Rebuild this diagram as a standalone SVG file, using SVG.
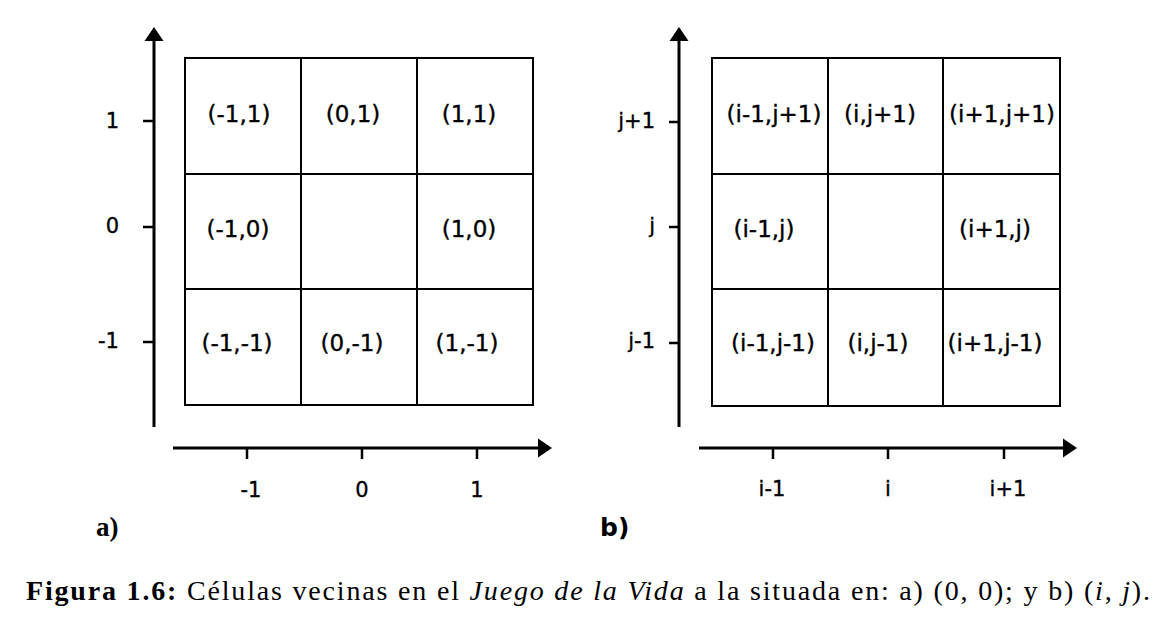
<svg xmlns="http://www.w3.org/2000/svg" width="1154" height="634" viewBox="0 0 1154 634">
<defs>
<style>
.cell{fill:#fff;stroke:#000;stroke-width:2}
.lbl{font-family:"DejaVu Sans",Verdana,sans-serif;font-size:23px;fill:#000;stroke:#000;stroke-width:0.35;text-anchor:middle}
.ax{font-family:"DejaVu Sans",Verdana,sans-serif;font-size:21px;fill:#000;stroke:#000;stroke-width:0.35}
.axis{stroke:#000;stroke-width:3;fill:none}
.tick{stroke:#000;stroke-width:2.5;fill:none}
.cap{font-family:"Liberation Serif","DejaVu Serif",serif;font-size:28px;fill:#000}
</style>
<marker id="arr" markerUnits="userSpaceOnUse" markerWidth="14" markerHeight="20" viewBox="0 0 14 20" refX="10" refY="10" orient="auto">
<path d="M0,0.5 L14,10 L0,19.5 Z" fill="#000"/>
</marker>
</defs>
<rect width="1154" height="634" fill="#fff"/>

<g id="panel-a">
<g id="a-cells">
<g id="a-cell-m1-p1"><rect class="cell" x="185" y="58" width="116" height="116"/><text class="lbl" x="239" y="122">(-1,1)</text></g>
<g id="a-cell-0-p1"><rect class="cell" x="301" y="58" width="116" height="116"/><text class="lbl" x="353" y="122">(0,1)</text></g>
<g id="a-cell-p1-p1"><rect class="cell" x="417" y="58" width="116" height="116"/><text class="lbl" x="469" y="122">(1,1)</text></g>
<g id="a-cell-m1-0"><rect class="cell" x="185" y="174" width="116" height="115"/><text class="lbl" x="238" y="237">(-1,0)</text></g>
<g id="a-cell-0-0"><rect class="cell" x="301" y="174" width="116" height="115"/></g>
<g id="a-cell-p1-0"><rect class="cell" x="417" y="174" width="116" height="115"/><text class="lbl" x="469" y="237">(1,0)</text></g>
<g id="a-cell-m1-m1"><rect class="cell" x="185" y="289" width="116" height="116"/><text class="lbl" x="237" y="351">(-1,-1)</text></g>
<g id="a-cell-0-m1"><rect class="cell" x="301" y="289" width="116" height="116"/><text class="lbl" x="352" y="351">(0,-1)</text></g>
<g id="a-cell-p1-m1"><rect class="cell" x="417" y="289" width="116" height="116"/><text class="lbl" x="467" y="351">(1,-1)</text></g>
</g>
<g id="a-axes">
<line class="axis" x1="154" y1="427" x2="154" y2="31" marker-end="url(#arr)"/>
<line class="axis" x1="173" y1="448" x2="548" y2="448" marker-end="url(#arr)"/>
<path class="tick" d="M143,121 H154 M143,227 H154 M143,342 H154 M247,448 V459 M362,448 V459 M477,448 V459"/>
</g>
<g id="a-axis-labels" class="ax">
<text x="119" y="128" text-anchor="end">1</text>
<text x="119" y="233" text-anchor="end">0</text>
<text x="119" y="348" text-anchor="end">-1</text>
<text x="251" y="497" text-anchor="middle">-1</text>
<text x="362" y="497" text-anchor="middle">0</text>
<text x="477" y="497" text-anchor="middle">1</text>
</g>
<text id="a-tag" x="96" y="536" font-family="'Liberation Serif',serif" font-weight="bold" font-size="27">a)</text>
</g>

<g id="panel-b">
<g id="b-cells">
<g id="b-cell-im1-jp1"><rect class="cell" x="712" y="58" width="116" height="116"/><text class="lbl" x="774" y="122">(i-1,j+1)</text></g>
<g id="b-cell-i-jp1"><rect class="cell" x="828" y="58" width="115" height="116"/><text class="lbl" x="880" y="122">(i,j+1)</text></g>
<g id="b-cell-ip1-jp1"><rect class="cell" x="943" y="58" width="117" height="116"/><text class="lbl" x="1002" y="122">(i+1,j+1)</text></g>
<g id="b-cell-im1-j"><rect class="cell" x="712" y="174" width="116" height="115"/><text class="lbl" x="764" y="237">(i-1,j)</text></g>
<g id="b-cell-i-j"><rect class="cell" x="828" y="174" width="115" height="115"/></g>
<g id="b-cell-ip1-j"><rect class="cell" x="943" y="174" width="117" height="115"/><text class="lbl" x="995" y="237">(i+1,j)</text></g>
<g id="b-cell-im1-jm1"><rect class="cell" x="712" y="289" width="116" height="117"/><text class="lbl" x="773" y="351">(i-1,j-1)</text></g>
<g id="b-cell-i-jm1"><rect class="cell" x="828" y="289" width="115" height="117"/><text class="lbl" x="878" y="351">(i,j-1)</text></g>
<g id="b-cell-ip1-jm1"><rect class="cell" x="943" y="289" width="117" height="117"/><text class="lbl" x="995" y="351">(i+1,j-1)</text></g>
</g>
<g id="b-axes">
<line class="axis" x1="679" y1="427" x2="679" y2="31" marker-end="url(#arr)"/>
<line class="axis" x1="699" y1="448" x2="1073" y2="448" marker-end="url(#arr)"/>
<path class="tick" d="M669,122 H679 M669,227 H679 M669,343 H679 M773,448 V459 M888,448 V459 M1004,448 V459"/>
</g>
<g id="b-axis-labels" class="ax">
<text x="655" y="128" text-anchor="end">j+1</text>
<text x="655" y="233" text-anchor="end">j</text>
<text x="655" y="348" text-anchor="end">j-1</text>
<text x="772" y="496" text-anchor="middle">i-1</text>
<text x="888" y="496" text-anchor="middle">i</text>
<text x="1008" y="496" text-anchor="middle">i+1</text>
</g>
<text id="b-tag" x="600" y="536" font-family="'DejaVu Sans',sans-serif" font-weight="bold" font-size="25">b)</text>
</g>

<text id="caption" class="cap" x="26" y="600" textLength="1124" lengthAdjust="spacing"><tspan font-weight="bold">Figura 1.6:</tspan> Células vecinas en el <tspan font-style="italic">Juego de la Vida</tspan> a la situada en: a) (0, 0); y b) (<tspan font-style="italic">i</tspan>, <tspan font-style="italic">j</tspan>).</text>
</svg>
